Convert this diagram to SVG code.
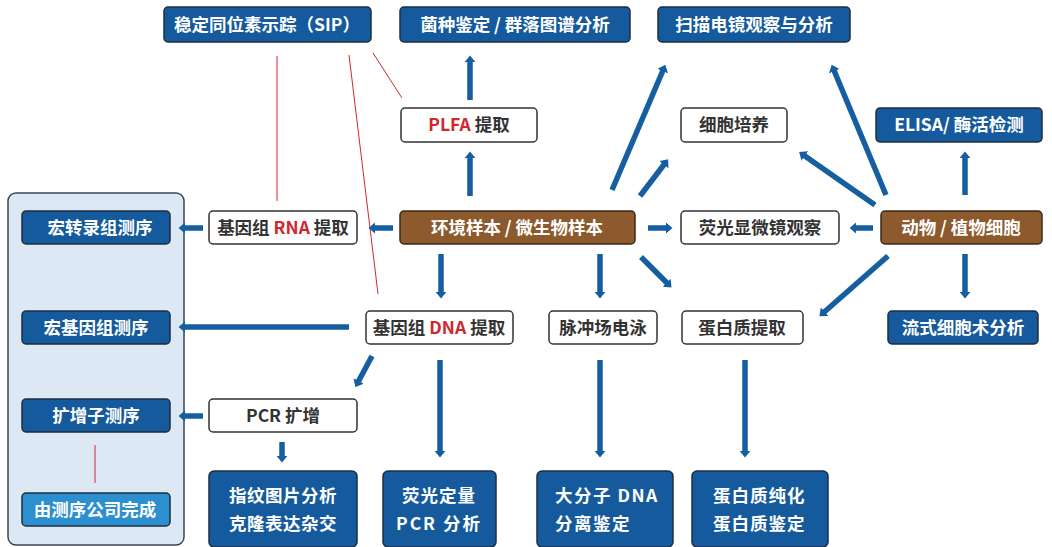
<svg xmlns="http://www.w3.org/2000/svg" width="1052" height="547" viewBox="0 0 1052 547">
<defs>
<style>
.t{font-family:"Noto Sans CJK SC","Noto Sans",sans-serif;font-weight:bold;font-size:17.5px;}
.b rect{fill:#145a9c;stroke:#1d2e40;stroke-width:1.5;}
.w rect{fill:#ffffff;stroke:#333333;stroke-width:1.5;}
.br rect{fill:#8c5a2c;stroke:#3a2a1a;stroke-width:1.5;}
.b text,.br text{fill:#ffffff;}
.w text{fill:#333333;}
.red{fill:#d0282e;}
.ar{stroke:#155ea0;stroke-width:5.5;fill:none;marker-end:url(#ah);}
.rl{stroke:#d0282e;stroke-width:1;fill:none;}
</style>
<marker id="ah" viewBox="0 0 10 10" refX="3" refY="5" markerWidth="2.1" markerHeight="2.1" orient="auto" markerUnits="strokeWidth">
<path d="M0,0 L6,5 L0,10 z" fill="#155ea0"/>
</marker>
</defs>
<rect x="0" y="0" width="1052" height="547" fill="#ffffff"/>

<g id="panel">
<rect x="8" y="193" width="176" height="352" rx="8" fill="#dde8f5" stroke="#3a4654" stroke-width="1.5"/>
</g>

<g id="connectors">
<line class="rl" x1="277" y1="56" x2="277" y2="201"/>
<line class="rl" x1="349" y1="55" x2="378" y2="294"/>
<line class="rl" x1="373" y1="53" x2="402" y2="98"/>
<line class="rl" x1="95" y1="445" x2="95" y2="483"/>

<line class="ar" x1="470" y1="100" x2="470" y2="59"/>
<line class="ar" x1="470" y1="196" x2="470" y2="155"/>
<line class="ar" x1="393" y1="228" x2="372" y2="228"/>
<line class="ar" x1="203" y1="228" x2="182" y2="228"/>
<line class="ar" x1="441" y1="254" x2="441" y2="295"/>
<line class="ar" x1="349" y1="327" x2="182" y2="327"/>
<line class="ar" x1="372" y1="356" x2="357" y2="384"/>
<line class="ar" x1="440" y1="360" x2="440" y2="454"/>
<line class="ar" x1="203" y1="416" x2="182" y2="416"/>
<line class="ar" x1="282" y1="442" x2="282" y2="459"/>

<line class="ar" x1="612" y1="190" x2="664" y2="68"/>
<line class="ar" x1="640" y1="196" x2="666" y2="162"/>
<line class="ar" x1="648" y1="228" x2="669" y2="228"/>
<line class="ar" x1="600" y1="254" x2="600" y2="295"/>
<line class="ar" x1="641" y1="257" x2="669" y2="285"/>

<line class="ar" x1="873" y1="228" x2="853" y2="228"/>
<line class="ar" x1="875" y1="205" x2="802" y2="154"/>
<line class="ar" x1="886" y1="195" x2="833" y2="68"/>
<line class="ar" x1="965" y1="195" x2="965" y2="155"/>
<line class="ar" x1="888" y1="256" x2="822" y2="314"/>
<line class="ar" x1="965" y1="254" x2="965" y2="295"/>

<line class="ar" x1="600" y1="360" x2="600" y2="454"/>
<line class="ar" x1="745" y1="360" x2="745" y2="454"/>
</g>

<g id="n-sip" class="b"><rect x="164" y="7" width="207" height="35" rx="4"/><text class="t" x="267" y="30.5" text-anchor="middle">稳定同位素示踪（SIP）</text></g>
<g id="n-jz" class="b"><rect x="400" y="7" width="230" height="35" rx="4"/><text class="t" x="515" y="30.5" text-anchor="middle">菌种鉴定 / 群落图谱分析</text></g>
<g id="n-sm" class="b"><rect x="658" y="7" width="192" height="35" rx="4"/><text class="t" x="754" y="30.5" text-anchor="middle">扫描电镜观察与分析</text></g>

<g id="n-plfa" class="w"><rect x="401" y="108" width="136" height="34" rx="4"/><text class="t" x="469" y="131" text-anchor="middle"><tspan class="red">PLFA</tspan> 提取</text></g>
<g id="n-xb" class="w"><rect x="681" y="108" width="106" height="34" rx="4"/><text class="t" x="734" y="131" text-anchor="middle">细胞培养</text></g>
<g id="n-elisa" class="b"><rect x="876" y="108" width="166" height="34" rx="4"/><text class="t" x="959" y="131" text-anchor="middle">ELISA/ 酶活检测</text></g>

<g id="n-hzl" class="b"><rect x="22" y="211" width="148" height="33" rx="4"/><text class="t" x="100" y="234" text-anchor="middle">宏转录组测序</text></g>
<g id="n-rna" class="w"><rect x="209" y="211" width="148" height="33" rx="4"/><text class="t" x="283" y="234" text-anchor="middle">基因组 <tspan class="red">RNA</tspan> 提取</text></g>
<g id="n-env" class="br"><rect x="400" y="211" width="235" height="33" rx="4"/><text class="t" x="517" y="234" text-anchor="middle">环境样本 / 微生物样本</text></g>
<g id="n-yg" class="w"><rect x="681" y="211" width="158" height="33" rx="4"/><text class="t" x="760" y="234" text-anchor="middle">荧光显微镜观察</text></g>
<g id="n-dw" class="br"><rect x="881" y="211" width="161" height="33" rx="4"/><text class="t" x="961" y="234" text-anchor="middle">动物 / 植物细胞</text></g>

<g id="n-hjy" class="b"><rect x="22" y="311" width="148" height="33" rx="4"/><text class="t" x="96" y="334" text-anchor="middle">宏基因组测序</text></g>
<g id="n-dna" class="w"><rect x="366" y="311" width="147" height="33" rx="4"/><text class="t" x="439" y="334" text-anchor="middle">基因组 <tspan class="red">DNA</tspan> 提取</text></g>
<g id="n-mc" class="w"><rect x="549" y="311" width="108" height="33" rx="4"/><text class="t" x="603" y="334" text-anchor="middle">脉冲场电泳</text></g>
<g id="n-dbtq" class="w"><rect x="682" y="311" width="121" height="33" rx="4"/><text class="t" x="742" y="334" text-anchor="middle">蛋白质提取</text></g>
<g id="n-ls" class="b"><rect x="888" y="311" width="150" height="33" rx="4"/><text class="t" x="963" y="334" text-anchor="middle">流式细胞术分析</text></g>

<g id="n-kzz" class="b"><rect x="22" y="399" width="148" height="33" rx="4"/><text class="t" x="96" y="422" text-anchor="middle">扩增子测序</text></g>
<g id="n-pcr" class="w"><rect x="209" y="399" width="148" height="33" rx="4"/><text class="t" x="283" y="422" text-anchor="middle">PCR 扩增</text></g>
<g id="n-gs" class="b"><rect x="22" y="493" width="148" height="33" rx="4" style="fill:#2b8fd0"/><text class="t" x="95" y="516" text-anchor="middle">由测序公司完成</text></g>

<g id="n-zw" class="b"><rect x="209" y="471" width="148" height="76" rx="5"/><text class="t" x="283" y="502" text-anchor="middle" letter-spacing="0.5">指纹图片分析</text><text class="t" x="283" y="530" text-anchor="middle" letter-spacing="0.5">克隆表达杂交</text></g>
<g id="n-ygdl" class="b"><rect x="383" y="471" width="113" height="76" rx="5"/><text class="t" x="439" y="502" text-anchor="middle" letter-spacing="1">荧光定量</text><text class="t" x="439" y="530" text-anchor="middle" letter-spacing="2">PCR 分析</text></g>
<g id="n-dfz" class="b"><rect x="537" y="471" width="136" height="76" rx="5"/><text class="t" x="555" y="502" letter-spacing="1.5">大分子 DNA</text><text class="t" x="555" y="530" letter-spacing="1.5">分离鉴定</text></g>
<g id="n-dbc" class="b"><rect x="692" y="471" width="136" height="76" rx="5"/><text class="t" x="713" y="502" letter-spacing="1">蛋白质纯化</text><text class="t" x="713" y="530" letter-spacing="1">蛋白质鉴定</text></g>
</svg>
